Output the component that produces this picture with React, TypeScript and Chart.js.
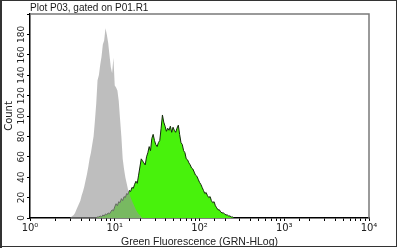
import React, { useEffect, useRef } from "react";
import { Chart, registerables } from "chart.js";

Chart.register(...registerables);

// Histogram channels: 64 channels per decade on a 4-decade log axis
const channelsPerDecade = 64;

const grayStartChannel = 30;
const grayCounts = [
  0, 1, 2, 3, 5, 8, 11, 14, 17, 22, 26, 31, 37, 43, 50, 58, 64, 72, 80, 95,
  112, 135, 140, 150, 158, 170, 174, 186, 180, 172, 160, 148, 142, 157, 130, 128,
  125, 115, 97, 80, 58, 48, 40, 34, 28, 24, 20, 17, 14, 11, 8, 6, 4, 3, 1, 0,
];

const greenStartChannel = 50;
const greenCounts = [
  0, 1, 1, 2, 1, 3, 2, 4, 3, 5, 4, 6, 8, 7, 11, 14, 12, 16, 15, 19,
  17, 21, 20, 24, 23, 27, 26, 30, 29, 33, 36, 34, 42, 50, 58, 56, 54, 52, 60, 64,
  70, 66, 78, 82, 76, 72, 70, 74, 76, 88, 101, 94, 90, 85, 88, 86, 90, 84, 89, 86,
  84, 88, 91, 82, 74, 72, 66, 64, 58, 57, 54, 52, 49, 48, 45, 42, 41, 38, 35, 33,
  30, 27, 24, 25, 22, 20, 21, 17, 15, 16, 12, 10, 8, 8, 6, 5, 5, 4, 3, 3,
  2, 2, 1, 1, 0,
];

const xDecades = [1, 10, 100, 1000, 10000];
const xTickLabels = ["10\u2070", "10\u00b9", "10\u00b2", "10\u00b3", "10\u2074"];
const yTickValues = [0, 20, 40, 60, 80, 100, 120, 140, 160, 180];
const yMax = 200;

const titleText = "Plot P03, gated on P01.R1";
const xTitle = "Green Fluorescence (GRN-HLog)";
const yTitle = "Count";

function toPoints(start: number, counts: number[]) {
  return counts.map((c, i) => ({ x: Math.pow(10, (start + i) / channelsPerDecade), y: c }));
}

const framePlugin = {
  id: "framePlugin",
  afterDraw(chart: any) {
    const { ctx, chartArea } = chart;
    const { left, top, right, bottom } = chartArea;
    const y = chart.scales.y;
    ctx.save();
    // plot frame (top, right)
    ctx.strokeStyle = "#7a7a7a";
    ctx.lineWidth = 1.5;
    ctx.beginPath();
    ctx.moveTo(left, top);
    ctx.lineTo(right, top);
    ctx.lineTo(right, bottom);
    ctx.stroke();
    // outer frame
    ctx.strokeStyle = "#333";
    ctx.lineWidth = 1;
    ctx.strokeRect(0.5, 0.5, 396, 246);
    ctx.lineWidth = 2;
    ctx.beginPath();
    ctx.moveTo(1, 0);
    ctx.lineTo(1, 248);
    ctx.stroke();
    // title
    ctx.fillStyle = "#1a1a1a";
    ctx.font = "10px 'Liberation Sans', Arial, sans-serif";
    ctx.textAlign = "left";
    ctx.textBaseline = "alphabetic";
    ctx.fillText(titleText, left, 11);
    // y tick labels rotated
    ctx.fillStyle = "#222";
    ctx.font = "9px 'DejaVu Sans', sans-serif";
    ctx.textAlign = "center";
    ctx.textBaseline = "middle";
    for (const v of yTickValues) {
      const py = y.getPixelForValue(v);
      ctx.save();
      ctx.translate(22, py);
      ctx.rotate(-Math.PI / 2);
      ctx.fillText(String(v), 0, 0);
      ctx.restore();
    }
    // y title
    ctx.font = "10px 'DejaVu Sans', sans-serif";
    ctx.save();
    ctx.translate(9, (top + bottom) / 2);
    ctx.rotate(-Math.PI / 2);
    ctx.fillText(yTitle, 0, 0);
    ctx.restore();
    ctx.restore();
  },
};

export default function App() {
  const ref = useRef<HTMLCanvasElement>(null);
  useEffect(() => {
    document.body.style.margin = "0";
    const chart = new Chart(ref.current!, {
      type: "line",
      data: {
        datasets: [
          {
            label: "gray",
            data: toPoints(grayStartChannel, grayCounts),
            backgroundColor: "rgba(150,150,150,0.62)",
            borderWidth: 0,
            borderColor: "rgba(0,0,0,0)",
            fill: "origin",
            pointRadius: 0,
            tension: 0,
          },
          {
            label: "green",
            data: toPoints(greenStartChannel, greenCounts),
            backgroundColor: "rgb(72,242,12)",
            borderColor: "#14280c",
            borderWidth: 1,
            fill: "origin",
            pointRadius: 0,
            tension: 0,
          },
        ],
      },
      options: {
        animation: false,
        responsive: false,
        layout: { padding: { top: 14, right: 31, left: 0, bottom: 0 } },
        plugins: { legend: { display: false }, tooltip: { enabled: false }, title: { display: false } },
        scales: {
          x: {
            type: "logarithmic",
            min: 1,
            max: 10000,
            afterFit: (s: any) => {
              s.height = 30;
            },
            border: { color: "#000", width: 1.5 },
            grid: { drawOnChartArea: false, drawTicks: true, tickLength: 3, tickColor: "#000" },
            ticks: {
              autoSkip: false,
              maxRotation: 0,
              padding: 1,
              color: "#222",
              font: { family: "'DejaVu Sans', sans-serif", size: 10 },
              callback: (v: any) => {
                const idx = xDecades.indexOf(Number(v));
                return idx >= 0 ? xTickLabels[idx] : "";
              },
            },
            title: {
              display: true,
              text: xTitle,
              color: "#222",
              padding: { top: 0, bottom: 0 },
              font: { family: "'Liberation Sans', Arial, sans-serif", size: 10.5 },
            },
          },
          y: {
            type: "linear",
            min: 0,
            max: yMax,
            afterFit: (s: any) => {
              s.width = 30;
            },
            border: { color: "#000", width: 1.5 },
            grid: { drawOnChartArea: false, drawTicks: true, tickLength: 3, tickColor: "#000" },
            ticks: { display: false, stepSize: 20 },
          },
        },
      },
      plugins: [framePlugin],
    });
    return () => chart.destroy();
  }, []);
  return (
    <div style={{ position: "fixed", left: 0, top: 0, width: 400, height: 248, background: "#fff" }}>
      <canvas ref={ref} width={400} height={248} style={{ width: 400, height: 248, display: "block" }} />
    </div>
  );
}
